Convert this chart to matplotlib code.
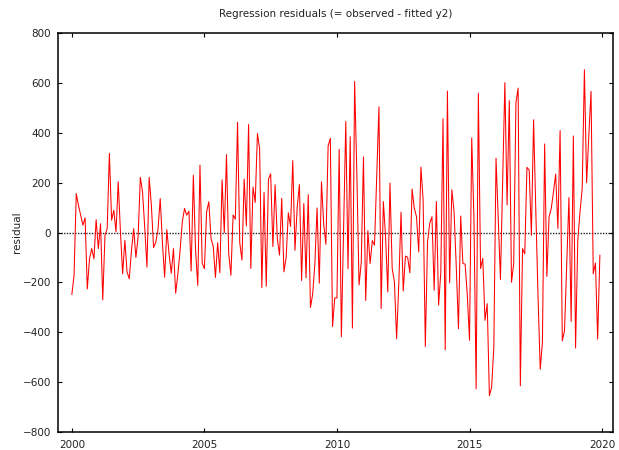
import matplotlib
matplotlib.use("Agg")
import matplotlib.pyplot as plt
import numpy as np

# monthly residuals, 2000:01 - 2019:12
residual = [
    -248, -172, 157, 110, 70, 30, 60, -226, -105, -64, -105, 52,
    -64, 36, -270, -11, 16, 318, 50, 90, 3, 204, 3, -165,
    -31, -158, -185, -71, 16, -100, -17, 222, 164, 20, -138, 222,
    110, -60, -38, 12, 137, -38, -179, 12, -85, -163, -64, -243,
    -165, -71, 43, 97, 70, 86, -154, 231, -71, -212, 271, -122,
    -145, 83, 124, -24, -55, -180, -40, -161, 212, 0, 313, -83,
    -171, 71, 54, 443, -40, -110, 215, 27, 434, -144, 183, 121,
    398, 336, -220, 161, -215, 215, 236, -56, 192, -23, -90, 138,
    -157, -100, 80, 25, 289, -71, 101, 193, -192, 117, -181, 153,
    -300, -248, -125, 99, -203, 204, 34, -47, 348, 379, -377, -262,
    -262, 334, -418, 20, 446, -145, 385, -383, 607, 238, -210, -120,
    304, -272, 8, -124, -32, -50, 230, 505, -305, 125, -16, -238,
    199, -144, -197, -426, -204, 82, -234, -94, -99, -161, 175, 98,
    64, -77, 263, 132, -457, -36, 38, 64, -231, 125, -291, -160,
    457, -470, 568, -201, 172, 85, -137, -385, 67, -124, -126, -251,
    -432, 380, 58, -627, 559, -144, -103, -352, -285, -654, -620, -459,
    299, 58, -188, 200, 602, 111, 530, -199, -124, 520, 580, -615,
    -64, -85, 262, 251, -11, 453, 90, -252, -548, -440, 356, -176,
    63, 97, 164, 235, 16, 410, -434, -393, -120, 141, -356, 388,
    -463, -31, 83, 177, 654, 200, 390, 567, -165, -122, -427, -91,
]
start_year = 2000
xticks = [2000, 2005, 2010, 2015, 2020]
yticks = [-800, -600, -400, -200, 0, 200, 400, 600, 800]

t = start_year + np.arange(len(residual)) / 12.0

plt.rcParams['font.family'] = ['DejaVu Sans']
plt.rcParams['text.color'] = '#222222'
fig = plt.figure(figsize=(6.19, 4.5), dpi=100)
ax = fig.add_axes([0.0942, 0.04, 0.8956, 0.886])

ax.axhline(0, color='#222222', linewidth=1.0, linestyle=(0, (1, 1)), zorder=1)
ax.plot(t, residual, color='#ff0000', linewidth=0.75, zorder=2)

ax.set_xlim(1999.49, 2020.40)
ax.set_ylim(-800, 800)
ax.set_xticks(xticks)
ax.set_yticks(yticks)
ax.tick_params(direction='in', length=3, width=0.8, top=True, right=True,
               labelsize=7.5, colors='black', labelcolor='#222222', pad=5)
ax.tick_params(axis='x', pad=6)
for s in ax.spines.values():
    s.set_linewidth(1.1)

ax.set_ylabel('residual', fontsize=7.5, labelpad=1, color='#222222')
ax.set_title('Regression residuals (= observed - fitted y2)', fontsize=7.5, pad=12)

fig.savefig('out.png', dpi=100)
